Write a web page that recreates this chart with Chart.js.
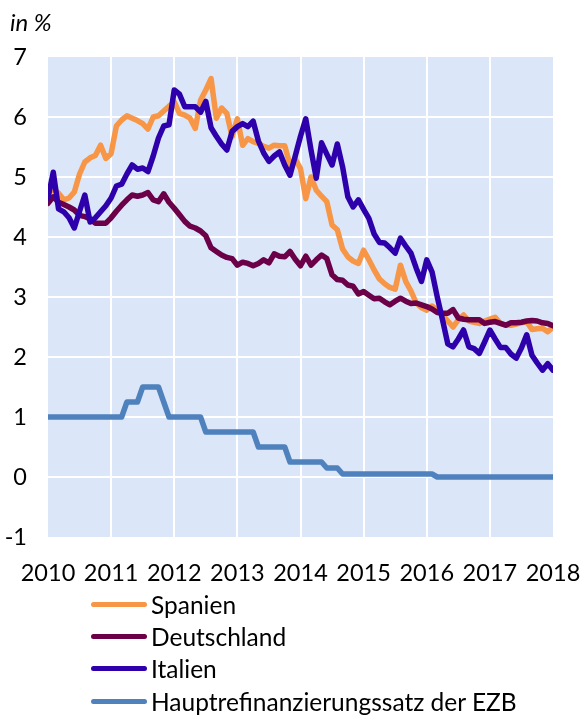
<!DOCTYPE html>
<html>
<head>
<meta charset="utf-8">
<script src="https://cdn.jsdelivr.net/npm/chart.js@4.4.1/dist/chart.umd.min.js"></script>
<style>
  html, body { margin:0; padding:0; background:#fff; }
  #wrap { position:relative; width:583px; height:716px; overflow:hidden; font-family: Lato, "DejaVu Sans", sans-serif; }
  canvas { position:absolute; left:0; top:0; }
  .unit { position:absolute; left:10px; top:7px; font-size:24px; font-style:italic; color:#000; }
  .leg { position:absolute; left:91px; height:30px; display:flex; align-items:center; font-size:24.5px; color:#000; white-space:nowrap; }
  .leg span.ln { display:inline-block; width:56px; height:5px; border-radius:3px; margin-right:4px; }
</style>
</head>
<body>
<div id="wrap">
  <canvas id="c" width="583" height="716"></canvas>
  <div class="unit">in %</div>
  <div id="legend"></div>
</div>
<script>
// Monthly data, Jan 2010 .. Jan 2018 (97 values)
const startYear = 2010;
const yearTicks = [2010, 2011, 2012, 2013, 2014, 2015, 2016, 2017, 2018];
const seriesNames = ["Spanien", "Deutschland", "Italien", "Hauptrefinanzierungssatz der EZB"];

const spanien = [
  4.72, 4.80, 4.73, 4.62, 4.65, 4.75, 5.05, 5.25, 5.32, 5.36, 5.53, 5.31,
  5.39, 5.85, 5.95, 6.02, 5.98, 5.94, 5.89, 5.80, 6.00, 6.02, 6.10, 6.18,
  6.25, 6.06, 6.03, 5.98, 5.81, 6.28, 6.45, 6.64, 5.98, 6.15, 6.06, 5.67,
  5.97, 5.53, 5.64, 5.59, 5.56, 5.51, 5.48, 5.53, 5.52, 5.52, 5.20, 5.30,
  5.14, 4.64, 5.00, 4.78, 4.68, 4.59, 4.20, 4.12, 3.80, 3.67, 3.60, 3.56,
  3.78, 3.62, 3.45, 3.30, 3.22, 3.16, 3.13, 3.53, 3.26, 3.10, 2.90, 2.82,
  2.78, 2.85, 2.78, 2.70, 2.60, 2.50, 2.62, 2.70, 2.60, 2.58, 2.56, 2.60,
  2.63, 2.66, 2.56, 2.53, 2.53, 2.55, 2.57, 2.59, 2.46, 2.47, 2.48, 2.42,
  2.50
];
const deutschland = [
  4.56, 4.67, 4.58, 4.54, 4.50, 4.45, 4.36, 4.34, 4.30, 4.23, 4.23, 4.23,
  4.32, 4.43, 4.53, 4.62, 4.70, 4.68, 4.70, 4.74, 4.62, 4.59, 4.72, 4.58,
  4.48, 4.37, 4.26, 4.18, 4.15, 4.10, 4.02, 3.82, 3.76, 3.70, 3.66, 3.64,
  3.53, 3.58, 3.56, 3.52, 3.56, 3.62, 3.57, 3.72, 3.68, 3.67, 3.76, 3.63,
  3.52, 3.68, 3.53, 3.62, 3.70, 3.64, 3.37, 3.29, 3.28, 3.20, 3.18, 3.05,
  3.09, 3.03, 2.97, 2.98, 2.92, 2.87, 2.93, 2.98, 2.93, 2.89, 2.90, 2.87,
  2.84, 2.80, 2.74, 2.73, 2.73, 2.79, 2.65, 2.63, 2.62, 2.62, 2.62, 2.56,
  2.58, 2.59, 2.56, 2.53, 2.57, 2.57, 2.58, 2.60, 2.61, 2.60, 2.57, 2.56,
  2.52
];
const italien = [
  4.65, 5.08, 4.47, 4.42, 4.32, 4.15, 4.43, 4.70, 4.25, 4.32, 4.42, 4.52,
  4.65, 4.85, 4.88, 5.05, 5.20, 5.13, 5.15, 5.09, 5.35, 5.65, 5.85, 5.87,
  6.45, 6.38, 6.17, 6.17, 6.17, 6.08, 6.26, 5.82, 5.68, 5.55, 5.45, 5.76,
  5.84, 5.89, 5.84, 5.93, 5.60, 5.40, 5.26, 5.35, 5.42, 5.20, 5.03, 5.35,
  5.68, 5.97, 5.45, 4.98, 5.57, 5.38, 5.20, 5.55, 5.17, 4.67, 4.50, 4.62,
  4.46, 4.31, 4.05, 3.91, 3.90, 3.82, 3.73, 3.98, 3.85, 3.73, 3.48, 3.26,
  3.62, 3.42, 3.00, 2.62, 2.22, 2.17, 2.30, 2.45, 2.17, 2.14, 2.06, 2.25,
  2.45, 2.30, 2.16, 2.16, 2.05, 1.98, 2.15, 2.37, 2.03, 1.90, 1.78, 1.89,
  1.78
];
const ezb = [
  1.00, 1.00, 1.00, 1.00, 1.00, 1.00, 1.00, 1.00, 1.00, 1.00, 1.00, 1.00,
  1.00, 1.00, 1.00, 1.25, 1.25, 1.25, 1.50, 1.50, 1.50, 1.50, 1.25, 1.00,
  1.00, 1.00, 1.00, 1.00, 1.00, 1.00, 0.75, 0.75, 0.75, 0.75, 0.75, 0.75,
  0.75, 0.75, 0.75, 0.75, 0.50, 0.50, 0.50, 0.50, 0.50, 0.50, 0.25, 0.25,
  0.25, 0.25, 0.25, 0.25, 0.25, 0.15, 0.15, 0.15, 0.05, 0.05, 0.05, 0.05,
  0.05, 0.05, 0.05, 0.05, 0.05, 0.05, 0.05, 0.05, 0.05, 0.05, 0.05, 0.05,
  0.05, 0.05, 0.00, 0.00, 0.00, 0.00, 0.00, 0.00, 0.00, 0.00, 0.00, 0.00,
  0.00, 0.00, 0.00, 0.00, 0.00, 0.00, 0.00, 0.00, 0.00, 0.00, 0.00, 0.00,
  0.00
];
const yTicks = [-1, 0, 1, 2, 3, 4, 5, 6, 7];

const colors = ["#F79646", "#6B0049", "#2E00AC", "#4F81BD"];
const seriesValues = [spanien, deutschland, italien, ezb];
const drawOrder = [4, 2, 1, 3]; // lower = drawn on top

function toXY(arr) { return arr.map((v, i) => ({ x: startYear + i / 12, y: v })); }

const datasets = seriesValues.map((arr, i) => ({
  label: seriesNames[i],
  data: toXY(arr),
  borderColor: colors[i],
  backgroundColor: colors[i],
  borderWidth: 5.5,
  pointRadius: 0,
  tension: 0,
  borderCapStyle: 'round',
  borderJoinStyle: 'round',
  order: drawOrder[i]
}));

const bgPlugin = {
  id: 'plotBg',
  beforeDraw(chart) {
    const a = chart.chartArea, ctx = chart.ctx;
    ctx.save();
    ctx.fillStyle = '#DBE6F8';
    ctx.fillRect(a.left, a.top, a.right - a.left, a.bottom - a.top);
    ctx.restore();
  }
};

const fontSpec = { family: 'Lato, "DejaVu Sans", sans-serif', size: 23.5 };

new Chart(document.getElementById('c'), {
  type: 'line',
  data: { datasets },
  plugins: [bgPlugin],
  options: {
    responsive: false,
    animation: false,
    devicePixelRatio: 1,
    layout: { padding: { left: 0, right: 30, top: 57, bottom: 129 } },
    plugins: { legend: { display: false }, tooltip: { enabled: false } },
    scales: {
      x: {
        type: 'linear',
        min: yearTicks[0],
        max: yearTicks[yearTicks.length - 1],
        afterBuildTicks(scale) { scale.ticks = yearTicks.map(v => ({ value: v })); },
        afterFit(scale) { scale.height = 50; scale.paddingLeft = 0; scale.paddingRight = 0; },
        ticks: { color: '#000', font: fontSpec, padding: 22, maxRotation: 0, autoSkip: false,
          callback: v => String(v) },
        grid: {
          drawTicks: false, lineWidth: 2,
          color: c => (c.tick && (c.tick.value === yearTicks[0] || c.tick.value === yearTicks[yearTicks.length-1])) ? 'rgba(0,0,0,0)' : '#ffffff'
        },
        border: { display: false }
      },
      y: {
        min: yTicks[0],
        max: yTicks[yTicks.length - 1],
        afterBuildTicks(scale) { scale.ticks = yTicks.map(v => ({ value: v })); },
        afterFit(scale) { scale.width = 48; scale.paddingTop = 0; scale.paddingBottom = 0; },
        ticks: { color: '#000', font: fontSpec, padding: 21, callback: v => String(v) },
        grid: {
          drawTicks: false, lineWidth: 2,
          color: c => (c.tick && (c.tick.value === yTicks[0] || c.tick.value === yTicks[yTicks.length-1])) ? 'rgba(0,0,0,0)' : '#ffffff'
        },
        border: { display: false }
      }
    }
  }
});

// HTML legend
const legendTops = [589, 621, 653, 686];
const legend = document.getElementById('legend');
seriesNames.forEach((n, i) => {
  const d = document.createElement('div');
  d.className = 'leg';
  d.style.top = legendTops[i] + 'px';
  const l = document.createElement('span');
  l.className = 'ln';
  l.style.background = colors[i];
  const t = document.createElement('span');
  t.textContent = n;
  d.appendChild(l); d.appendChild(t);
  legend.appendChild(d);
});
</script>
</body>
</html>
